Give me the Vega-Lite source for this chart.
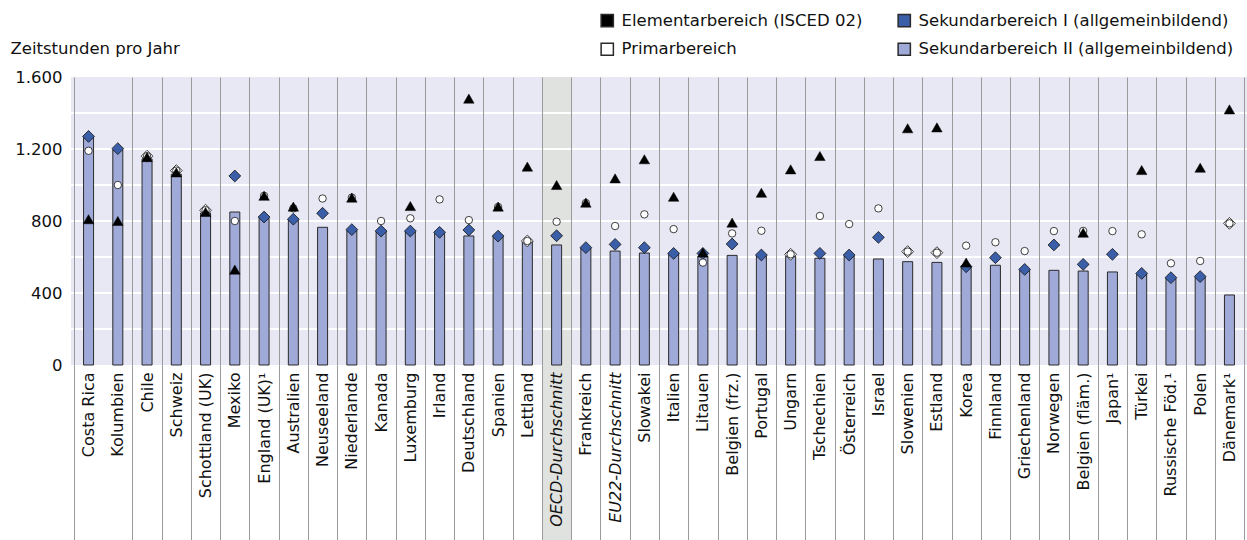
{
  "$schema": "https://vega.github.io/schema/vega-lite/v6.json",
  "autosize": "none",
  "width": 1176,
  "height": 288,
  "padding": {"left": 71, "top": 77, "right": 0, "bottom": 175},
  "background": "white",
  "config": {
    "font": "DejaVu Sans",
    "view": {"fill": "#E8E8F4", "stroke": null},
    "axisY": {"labelOverlap": false}
  },
  "datasets": {
    "laender": [
      {"land": "Costa Rica", "elem": 810, "prim": 1190, "sek1": 1270, "sek2": 1265},
      {"land": "Kolumbien", "elem": 800, "prim": 1000, "sek1": 1202, "sek2": 1195},
      {"land": "Chile", "elem": 1155, "prim": 1160, "sek1": 1160, "sek2": 1145},
      {"land": "Schweiz", "elem": 1070, "prim": 1080, "sek1": 1080, "sek2": 1060},
      {"land": "Schottland (UK)", "elem": 850, "prim": 860, "sek1": 860, "sek2": 845},
      {"land": "Mexiko", "elem": 530, "prim": 800, "sek1": 1050, "sek2": 850},
      {"land": "England (UK)¹", "elem": 940, "prim": 940, "sek1": 822, "sek2": 815},
      {"land": "Australien", "elem": 880, "prim": 870, "sek1": 810, "sek2": 805},
      {"land": "Neuseeland", "elem": null, "prim": 925, "sek1": 843, "sek2": 765},
      {"land": "Niederlande", "elem": 930, "prim": 930, "sek1": 752, "sek2": 745},
      {"land": "Kanada", "elem": null, "prim": 800, "sek1": 744, "sek2": 740},
      {"land": "Luxemburg", "elem": 883, "prim": 815, "sek1": 744, "sek2": 740},
      {"land": "Irland", "elem": null, "prim": 920, "sek1": 737, "sek2": 735},
      {"land": "Deutschland", "elem": 1480, "prim": 805, "sek1": 750, "sek2": 717},
      {"land": "Spanien", "elem": 880, "prim": 878, "sek1": 716, "sek2": 712},
      {"land": "Lettland", "elem": 1102, "prim": 689, "sek1": 689, "sek2": 683},
      {"land": "OECD-Durchschnitt", "elem": 1000, "prim": 796, "sek1": 718, "sek2": 667},
      {"land": "Frankreich", "elem": 902, "prim": 900, "sek1": 652, "sek2": 648},
      {"land": "EU22-Durchschnitt", "elem": 1037, "prim": 772, "sek1": 670, "sek2": 633},
      {"land": "Slowakei", "elem": 1143, "prim": 837, "sek1": 652, "sek2": 622},
      {"land": "Italien", "elem": 935, "prim": 755, "sek1": 620, "sek2": 615},
      {"land": "Litauen", "elem": 625, "prim": 569, "sek1": 620, "sek2": 602},
      {"land": "Belgien (frz.)", "elem": 791, "prim": 731, "sek1": 672, "sek2": 609},
      {"land": "Portugal", "elem": 957, "prim": 746, "sek1": 611, "sek2": 605},
      {"land": "Ungarn", "elem": 1087, "prim": 615, "sek1": 615, "sek2": 605},
      {"land": "Tschechien", "elem": 1161, "prim": 828, "sek1": 620, "sek2": 593},
      {"land": "Österreich", "elem": null, "prim": 783, "sek1": 611, "sek2": 605},
      {"land": "Israel", "elem": null, "prim": 870, "sek1": 709, "sek2": 589},
      {"land": "Slowenien", "elem": 1315, "prim": 630, "sek1": 630, "sek2": 574},
      {"land": "Estland", "elem": 1320, "prim": 624, "sek1": 624, "sek2": 570},
      {"land": "Korea", "elem": 569, "prim": 663, "sek1": 546, "sek2": 540},
      {"land": "Finnland", "elem": null, "prim": 682, "sek1": 596, "sek2": 554},
      {"land": "Griechenland", "elem": null, "prim": 633, "sek1": 531, "sek2": 525},
      {"land": "Norwegen", "elem": null, "prim": 744, "sek1": 667, "sek2": 526},
      {"land": "Belgien (fläm.)", "elem": 735, "prim": 745, "sek1": 559, "sek2": 522},
      {"land": "Japan¹", "elem": null, "prim": 744, "sek1": 615, "sek2": 517},
      {"land": "Türkei", "elem": 1083, "prim": 726, "sek1": 509, "sek2": 505},
      {"land": "Russische Föd.¹", "elem": null, "prim": 565, "sek1": 485, "sek2": 480},
      {"land": "Polen", "elem": 1096, "prim": 578, "sek1": 491, "sek2": 485},
      {"land": "Dänemark¹", "elem": 1420, "prim": 787, "sek1": 787, "sek2": 389}
    ],
    "gitter": [{"g": 200}, {"g": 400}, {"g": 600}, {"g": 800}, {"g": 1000}, {"g": 1200}, {"g": 1400}]
  },
  "layer": [
    {
      "data": {"name": "laender"},
      "mark": {"type": "rect", "fill": "#E0E2DF"},
      "encoding": {
        "x": {
          "field": "land",
          "type": "nominal",
          "sort": null,
          "title": null,
          "scale": {"paddingInner": 0, "paddingOuter": 0.1},
          "axis": {
            "orient": "bottom",
            "zindex": 1,
            "domain": false,
            "grid": true,
            "gridColor": "#9a9a9a",
            "gridWidth": 1,
            "gridOpacity": {"condition": {"test": "datum.value === 'Costa Rica'", "value": 0}, "value": 1},
            "ticks": true,
            "tickBand": "extent",
            "tickSize": 175,
            "tickColor": "#9a9a9a",
            "tickWidth": 1,
            "tickOpacity": {"condition": {"test": "datum.value === 'Costa Rica'", "value": 0}, "value": 1},
            "labelAngle": -90,
            "labelAlign": "right",
            "labelBaseline": "middle",
            "labelPadding": -168,
            "labelFont": "DejaVu Sans",
            "labelFontSize": 16,
            "labelColor": "#111111",
            "labelOverlap": false,
            "labelFontStyle": {"condition": {"test": "datum.value === 'OECD-Durchschnitt' || datum.value === 'EU22-Durchschnitt'", "value": "italic"}, "value": "normal"}
          }
        },
        "y": {"value": 0},
        "y2": {"value": 463},
        "fillOpacity": {"condition": {"test": "datum.land === 'OECD-Durchschnitt'", "value": 1}, "value": 0}
      }
    },
    {
      "data": {"name": "gitter"},
      "mark": {"type": "rule", "color": "white", "strokeWidth": 2},
      "encoding": {
        "y": {
          "field": "g",
          "type": "quantitative",
          "scale": {"domain": [0, 1600], "nice": false, "zero": true},
          "axis": {
            "values": [0, 200, 400, 600, 800, 1000, 1200, 1400, 1600],
            "labelExpr": "replace(format(datum.value, ','), ',', '.')",
            "labelOverlap": false,
            "domain": false,
            "ticks": false,
            "grid": false,
            "labelPadding": 9,
            "labelFont": "DejaVu Sans",
            "labelFontSize": 16.5,
            "labelColor": "#111111",
            "title": "Zeitstunden pro Jahr",
            "titleAngle": 0,
            "titleAlign": "left",
            "titleBaseline": "alphabetic",
            "titleX": -61,
            "titleY": -24,
            "titleFont": "DejaVu Sans",
            "titleFontSize": 16.5,
            "titleFontWeight": "normal",
            "titleColor": "#111111"
          }
        }
      }
    },
    {
      "data": {"name": "laender"},
      "transform": [{"fold": ["sek2"], "as": ["Bereich", "Stunden"]}],
      "mark": {"type": "bar", "size": 10, "stroke": "#2a2a2a", "strokeWidth": 1},
      "encoding": {
        "x": {"field": "land", "type": "nominal", "sort": null},
        "y": {"field": "Stunden", "type": "quantitative", "stack": null},
        "fill": {
          "field": "Bereich",
          "type": "nominal",
          "scale": {"domain": ["elem", "prim", "sek1", "sek2"], "range": ["#000000", "#FFFFFF", "#3A5EA8", "#A0AAD8"]},
          "legend": {
            "orient": "none",
            "legendX": 528,
            "legendY": -65,
            "columns": 2,
            "title": null,
            "labelFont": "DejaVu Sans",
            "labelFontSize": 16.5,
            "labelColor": "#111111",
            "labelOffset": 6,
            "labelLimit": 500,
            "symbolSize": 150,
            "columnPadding": 32,
            "rowPadding": 10,
            "labelExpr": "datum.label === 'elem' ? 'Elementarbereich (ISCED 02)' : datum.label === 'sek1' ? 'Sekundarbereich I (allgemeinbildend)' : datum.label === 'prim' ? 'Primarbereich' : 'Sekundarbereich II (allgemeinbildend)'",
            "encode": {
              "symbols": {
                "shape": {"value": {"expr": "datum.value === 'elem' ? 'triangle-up' : datum.value === 'sek1' ? 'diamond' : datum.value === 'prim' ? 'circle' : 'square'"}},
                "size": {"value": {"expr": "datum.value === 'elem' ? 130 : datum.value === 'sek1' ? 210 : datum.value === 'prim' ? 120 : 190"}},
                "stroke": {"value": "#111111"},
                "strokeWidth": {"value": 1}
              }
            }
          }
        }
      }
    },
    {
      "data": {"name": "laender"},
      "mark": {"type": "point", "filled": true, "shape": "diamond", "size": 140, "stroke": "#111111", "strokeWidth": 0.8, "opacity": 1, "fill": "#3A5EA8"},
      "encoding": {
        "x": {"field": "land", "type": "nominal", "sort": null},
        "y": {"field": "sek1", "type": "quantitative"},
        "fill": {"condition": {"test": "datum.sek1 === datum.prim", "value": "#FFFFFF"}, "value": "#3A5EA8"}
      }
    },
    {
      "data": {"name": "laender"},
      "mark": {"type": "point", "filled": true, "shape": "circle", "size": 55, "stroke": "#111111", "strokeWidth": 0.8, "opacity": 1, "fill": "#FFFFFF"},
      "encoding": {
        "x": {"field": "land", "type": "nominal", "sort": null},
        "y": {"field": "prim", "type": "quantitative"}
      }
    },
    {
      "data": {"name": "laender"},
      "transform": [{"filter": "isValid(datum.elem)"}],
      "mark": {"type": "point", "filled": true, "shape": "triangle-up", "size": 110, "stroke": "#000000", "strokeWidth": 0.5, "opacity": 1, "fill": "#000000"},
      "encoding": {
        "x": {"field": "land", "type": "nominal", "sort": null},
        "y": {"field": "elem", "type": "quantitative"}
      }
    }
  ]
}
